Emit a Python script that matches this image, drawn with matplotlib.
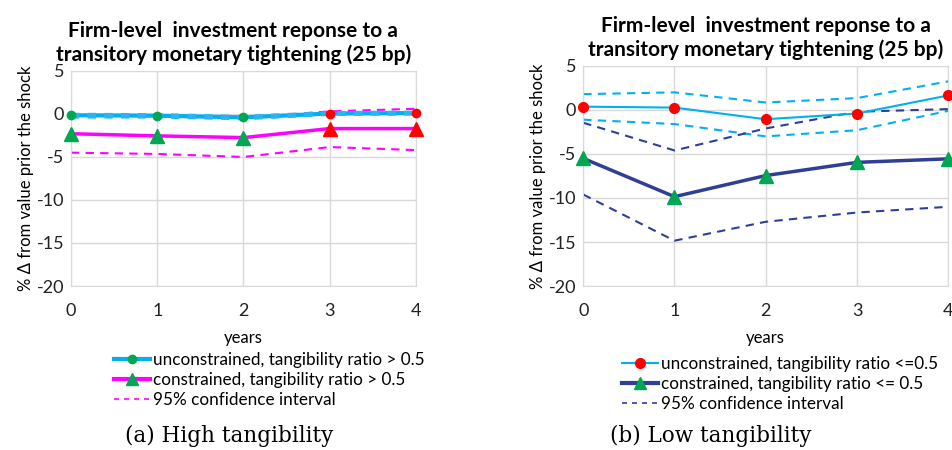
import matplotlib.pyplot as plt
from matplotlib.lines import Line2D

years = [0, 1, 2, 3, 4]

# (a) high tangibility
hi_uncon = [-0.15, -0.2, -0.4, 0.05, 0.1]
hi_uncon_up = [-0.1, -0.15, -0.35, 0.1, 0.15]
hi_uncon_lo = [-0.3, -0.3, -0.5, 0.0, 0.05]
hi_con = [-2.3, -2.55, -2.75, -1.7, -1.7]
hi_con_up = [-0.2, -0.25, -0.45, 0.3, 0.6]
hi_con_lo = [-4.5, -4.65, -5.0, -3.85, -4.2]

# (b) low tangibility
lo_uncon = [0.38, 0.27, -1.05, -0.4, 1.65]
lo_uncon_up = [1.8, 2.0, 0.85, 1.35, 3.25]
lo_uncon_lo = [-1.1, -1.6, -3.0, -2.3, -0.1]
lo_con = [-5.5, -9.85, -7.45, -5.95, -5.55]
lo_con_up = [-1.45, -4.6, -2.1, -0.2, 0.1]
lo_con_lo = [-9.6, -14.85, -12.7, -11.65, -11.0]

yticks = [5, 0, -5, -10, -15, -20]

TITLE = "Firm-level  investment reponse to a\ntransitory monetary tightening (25 bp)"
CYAN = '#00B0F0'
MAGENTA = '#FF00FF'
NAVY = '#303F96'
GREEN = '#00A651'
RED = '#FF0000'
FONT = ['Lato', 'DejaVu Sans']

plt.rcParams['font.family'] = FONT

fig = plt.figure(figsize=(9.53, 4.5), dpi=100)
ax1 = fig.add_axes([0.0745, 0.3644, 0.362, 0.478])
ax2 = fig.add_axes([0.612, 0.3644, 0.383, 0.489])


def style_axes(ax, title_x=0.5):
    ax.set_xlim(0, 4)
    ax.set_ylim(-20, 5)
    ax.set_xticks(years)
    ax.set_yticks(yticks)
    ax.set_yticklabels([str(t) for t in yticks])
    ax.tick_params(length=0, labelsize=13, colors='#222222', pad=5)
    ax.tick_params(axis='x', pad=12)
    ax.grid(True, color='#D9D9D9', linewidth=1)
    ax.set_axisbelow(True)
    for s in ax.spines.values():
        s.set_color('#D9D9D9')
    ax.set_xlabel('years', fontsize=12, labelpad=8)
    ax.set_ylabel('% \u0394 from value prior the shock', fontsize=12, labelpad=2)
    ax.set_title(TITLE, fontsize=15, fontweight='bold', linespacing=1.2,
                 pad=7, x=title_x)


legend_kw = dict(loc='upper left', frameon=False, fontsize=12.3,
                 handlelength=2.1, handletextpad=0.15, labelspacing=0.25,
                 borderpad=0, borderaxespad=0)

# panel (a)
ax = ax1
ax.plot(years, hi_con_up, color=MAGENTA, lw=1.5, ls=(0, (4, 3)))
ax.plot(years, hi_con_lo, color=MAGENTA, lw=1.5, ls=(0, (4, 3)))
ax.plot(years, hi_uncon, color=CYAN, lw=3)
ax.plot(years, hi_uncon_up, color='#29B5F0', lw=3, ls=(0, (2, 2)))
ax.plot(years, hi_uncon_lo, color='#29B5F0', lw=3, ls=(0, (2, 2)))
ax.plot(years, hi_con, color=MAGENTA, lw=2.5)
hi_marker_colors = [GREEN, GREEN, GREEN, RED, RED]
for x, yu, yc, c in zip(years, hi_uncon, hi_con, hi_marker_colors):
    ax.plot(x, yu, 'o', color=c, ms=6, clip_on=False, zorder=5)
    ax.plot(x, yc, '^', color=c, ms=10, clip_on=False, zorder=5)
style_axes(ax, title_x=0.47)

handles_a = [
    Line2D([], [], color=CYAN, lw=3, marker='o', mfc=GREEN, mec=GREEN, ms=6),
    Line2D([], [], color=MAGENTA, lw=3, marker='^', mfc=GREEN, mec=GREEN, ms=9),
    Line2D([], [], color=MAGENTA, lw=1.2, ls=(0, (3, 3))),
]
labels_a = ['unconstrained, tangibility ratio > 0.5',
            'constrained, tangibility ratio > 0.5',
            '95% confidence interval']
fig.legend(handles_a, labels_a, bbox_to_anchor=(0.12, 0.218), **legend_kw)

# panel (b)
ax = ax2
ax.plot(years, lo_uncon_up, color=CYAN, lw=1.5, ls=(0, (4, 3)))
ax.plot(years, lo_uncon_lo, color=CYAN, lw=1.5, ls=(0, (4, 3)))
ax.plot(years, lo_con_up, color=NAVY, lw=1.5, ls=(0, (4, 3)))
ax.plot(years, lo_con_lo, color=NAVY, lw=1.5, ls=(0, (4, 3)))
ax.plot(years, lo_uncon, color=CYAN, lw=1.5, marker='o', mfc=RED, mec=RED,
        ms=7, clip_on=False, zorder=4)
ax.plot(years, lo_con, color=NAVY, lw=2.5, marker='^', mfc=GREEN, mec=GREEN,
        ms=10, clip_on=False, zorder=4)
style_axes(ax)

handles_b = [
    Line2D([], [], color=CYAN, lw=1.5, marker='o', mfc=RED, mec=RED, ms=7),
    Line2D([], [], color=NAVY, lw=3, marker='^', mfc=GREEN, mec=GREEN, ms=9),
    Line2D([], [], color=NAVY, lw=1.2, ls=(0, (3, 3))),
]
labels_b = ['unconstrained, tangibility ratio <=0.5',
            'constrained, tangibility ratio <= 0.5',
            '95% confidence interval']
fig.legend(handles_b, labels_b, bbox_to_anchor=(0.653, 0.21), **legend_kw)

# captions
fig.text(0.240, 0.017, '(a) High tangibility', ha='center', va='baseline',
         fontsize=15.5, family=['DejaVu Serif'])
fig.text(0.746, 0.017, '(b) Low tangibility', ha='center', va='baseline',
         fontsize=15.5, family=['DejaVu Serif'])

fig.savefig('out.png', dpi=100)
